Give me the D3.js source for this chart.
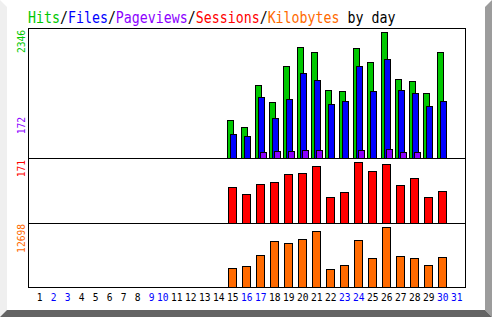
<!DOCTYPE html>
<html>
<head>
<meta charset="utf-8">
<script src="https://cdn.jsdelivr.net/npm/d3@7"></script>
<style>
  html, body { margin: 0; padding: 0; background: #fff; }
  svg { display: block; }
  text { font-family: "DejaVu Sans Mono", monospace; }
</style>
</head>
<body>
<div id="chart"></div>
<script>
// day labels along the bottom, weekend days drawn in blue
var days = [1, 2, 3, 4, 5, 6, 7, 8, 9, 10, 11, 12, 13, 14, 15, 16,
            17, 18, 19, 20, 21, 22, 23, 24, 25, 26, 27, 28, 29, 30, 31];
var weekend = [2, 3, 9, 10, 16, 17, 23, 24, 30, 31];

// series, one value per day
var hits   = [0, 0, 0, 0, 0, 0, 0, 0, 0, 0, 0, 0, 0, 0,
              707, 572, 1354, 1043, 1707, 2061, 1968, 1261, 1247, 2042, 1782, 2346, 1465, 1428, 1205, 1968, 0];
var files  = [0, 0, 0, 0, 0, 0, 0, 0, 0, 0, 0, 0, 0, 0,
              441, 404, 1130, 739, 1093, 1577, 1447, 1000, 1056, 1707, 1247, 1838, 1261, 1205, 963, 1056, 0];
var pages  = [0, 0, 0, 0, 0, 0, 0, 0, 0, 0, 0, 0, 0, 0,
              0, 0, 112, 124, 124, 149, 149, 0, 0, 149, 0, 172, 106, 106, 0, 0, 0];
var visits = [0, 0, 0, 0, 0, 0, 0, 0, 0, 0, 0, 0, 0, 0,
              100, 81, 109, 114, 137, 139, 159, 72, 86, 171, 145, 165, 107, 125, 72, 89, 0];
var kbytes = [0, 0, 0, 0, 0, 0, 0, 0, 0, 0, 0, 0, 0, 0,
              4021, 4381, 6709, 9735, 9249, 10095, 11851, 3809, 4593, 9947, 6074, 12698, 6497, 6074, 4593, 6286, 0];

var title = [
  { text: 'Hits',      color: '#00c800' },
  { text: '/',         color: '#000' },
  { text: 'Files',     color: '#0000ff' },
  { text: '/',         color: '#000' },
  { text: 'Pageviews', color: '#8c00ff' },
  { text: '/',         color: '#000' },
  { text: 'Sessions',  color: '#ff0000' },
  { text: '/',         color: '#000' },
  { text: 'Kilobytes', color: '#ff6a00' },
  { text: ' by day',   color: '#000' }
];

var W = 492, H = 317;
var box = { left: 28, right: 465, top: 28, mid1: 158, mid2: 223, bottom: 287 };

var svg = d3.select('#chart').append('svg')
  .attr('width', W)
  .attr('height', H);

// bevelled frame
svg.append('polygon').attr('points', '0,0 7,7 7,310 0,317').attr('fill', '#efefef');
svg.append('polygon').attr('points', '492,0 485,7 485,310 492,317').attr('fill', '#9c9c9c');
svg.append('polygon').attr('points', '0,317 7,310 485,310 492,317').attr('fill', '#646464');

// title
var t = svg.append('text')
  .attr('transform', 'translate(' + box.left + ',23) scale(0.83,1)')
  .style('font-size', '16px');
t.selectAll('tspan')
  .data(title)
  .enter()
  .append('tspan')
  .attr('fill', function (d) { return d.color; })
  .style('white-space', 'pre')
  .text(function (d) { return d.text; });

var x = d3.scaleLinear().domain([1, 31]).range([31, 451]);
var yHits = d3.scaleLinear().domain([0, d3.max(hits)]).range([box.mid1, 32]);
var yVisits = d3.scaleLinear().domain([0, d3.max(visits)]).range([box.mid2, 162]);
var yKb = d3.scaleLinear().domain([0, d3.max(kbytes)]).range([box.bottom, 227]);

function bars(values, y, base, offset, width, color) {
  var data = days.map(function (d, i) { return { day: d, v: values[i] }; })
                 .filter(function (d) { return d.v > 0; });
  svg.append('g').selectAll('rect')
    .data(data)
    .enter()
    .append('rect')
    .attr('x', function (d) { return Math.round(x(d.day)) + offset + 0.5; })
    .attr('y', function (d) { return Math.round(y(d.v)) + 0.5; })
    .attr('width', width)
    .attr('height', function (d) { return base - Math.round(y(d.v)); })
    .attr('fill', color)
    .attr('stroke', '#000')
    .attr('stroke-width', 1)
    .attr('shape-rendering', 'crispEdges');
}

bars(hits,   yHits,   box.mid1,   0, 6, '#00c800');
bars(files,  yHits,   box.mid1,   3, 6, '#0000ff');
bars(pages,  yHits,   box.mid1,   5, 6, '#8c00ff');
bars(visits, yVisits, box.mid2,   1, 8, '#ff0000');
bars(kbytes, yKb,     box.bottom, 1, 8, '#ff6a00');

// outline and section dividers
svg.append('rect')
  .attr('x', box.left + 0.5).attr('y', box.top + 0.5)
  .attr('width', box.right - box.left).attr('height', box.bottom - box.top)
  .attr('fill', 'none').attr('stroke', '#000')
  .attr('shape-rendering', 'crispEdges');
[box.mid1, box.mid2].forEach(function (yy) {
  svg.append('line')
    .attr('x1', box.left).attr('x2', box.right + 1)
    .attr('y1', yy + 0.5).attr('y2', yy + 0.5)
    .attr('stroke', '#000')
    .attr('shape-rendering', 'crispEdges');
});

// day labels
svg.append('g').selectAll('text')
  .data(days)
  .enter()
  .append('text')
  .attr('x', function (d) { return Math.round(x(d)) + 11.5; })
  .attr('y', 301)
  .attr('text-anchor', 'end')
  .style('font-size', '9.6px')
  .attr('fill', function (d) { return weekend.indexOf(d) >= 0 ? '#0000ff' : '#000'; })
  .text(function (d) { return d; });

// max value labels, rotated on the left
var maxLabels = [
  { v: d3.max(hits),   at: 30,  color: '#00c800' },
  { v: d3.max(pages),  at: 117, color: '#8c00ff' },
  { v: d3.max(visits), at: 160, color: '#ff0000' },
  { v: d3.max(kbytes), at: 224, color: '#ff6a00' }
];
svg.append('g').selectAll('text')
  .data(maxLabels)
  .enter()
  .append('text')
  .attr('transform', function (d) { return 'translate(25,' + d.at + ') rotate(-90)'; })
  .attr('text-anchor', 'end')
  .style('font-size', '9.6px')
  .attr('fill', function (d) { return d.color; })
  .text(function (d) { return d.v; });
</script>
</body>
</html>
